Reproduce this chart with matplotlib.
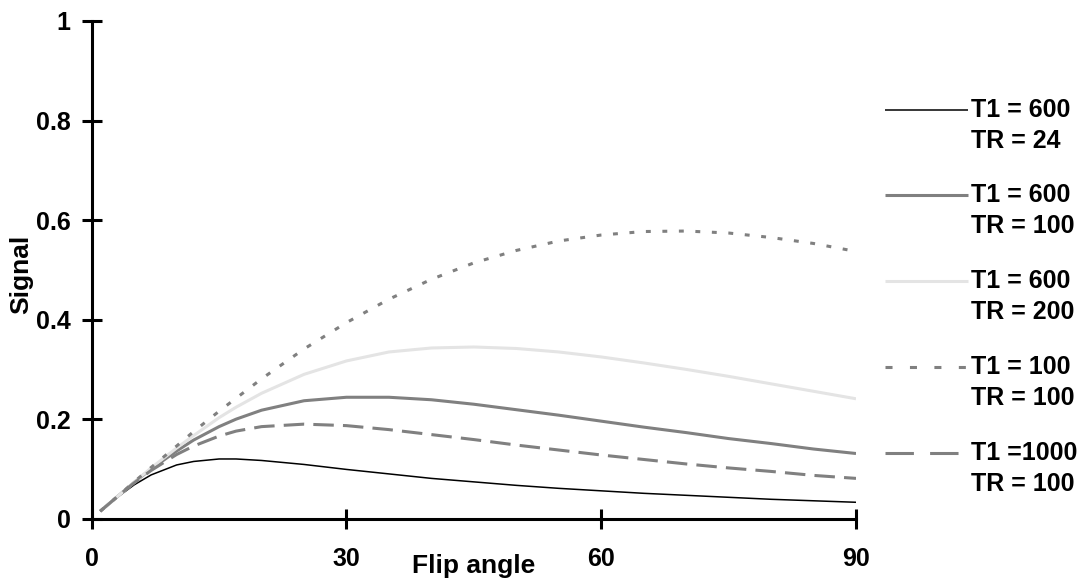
import matplotlib
matplotlib.use('Agg')
import matplotlib.pyplot as plt
from matplotlib.lines import Line2D

plt.rcParams['font.family'] = ['Liberation Sans', 'DejaVu Sans']
plt.rcParams['font.weight'] = 'bold'

# flip angle (degrees)
flip_angle = [1, 3, 5, 7, 10, 12, 15, 17, 20, 25, 30, 35, 40, 45, 50, 55, 60, 65, 70, 75, 80, 85, 90]

# signal
sig_t1_600_tr_24 = [0.015, 0.043, 0.068, 0.088, 0.108, 0.115, 0.120, 0.120, 0.117, 0.109, 0.099, 0.090,
                    0.081, 0.074, 0.067, 0.061, 0.056, 0.051, 0.047, 0.043, 0.039, 0.036, 0.033]
sig_t1_600_tr_100 = [0.015, 0.044, 0.073, 0.100, 0.136, 0.158, 0.185, 0.200, 0.218, 0.237, 0.244, 0.244,
                     0.239, 0.230, 0.219, 0.208, 0.196, 0.184, 0.173, 0.161, 0.151, 0.140, 0.131]
sig_t1_600_tr_200 = [0.015, 0.044, 0.073, 0.102, 0.142, 0.167, 0.203, 0.224, 0.252, 0.290, 0.317, 0.335,
                     0.343, 0.345, 0.342, 0.335, 0.325, 0.313, 0.300, 0.286, 0.271, 0.256, 0.241]
sig_t1_100_tr_100 = [0.015, 0.044, 0.074, 0.103, 0.146, 0.175, 0.216, 0.242, 0.281, 0.341, 0.394, 0.441,
                     0.481, 0.514, 0.539, 0.558, 0.570, 0.577, 0.578, 0.574, 0.565, 0.553, 0.537]
sig_t1_1000_tr_100 = [0.015, 0.044, 0.072, 0.097, 0.129, 0.146, 0.166, 0.176, 0.185, 0.190, 0.187, 0.179,
                      0.169, 0.159, 0.148, 0.138, 0.128, 0.119, 0.110, 0.102, 0.095, 0.087, 0.081]

labels = [("T1 = 600", "TR = 24"), ("T1 = 600", "TR = 100"), ("T1 = 600", "TR = 200"),
          ("T1 = 100", "TR = 100"), ("T1 =1000", "TR = 100")]

W, H = 1086, 581
fig = plt.figure(figsize=(W / 100, H / 100), dpi=100)
ax = fig.add_axes([91.7 / W, 1 - 518.7 / H, (856 - 91.7) / W, (518.7 - 21) / H])

gray = '#808080'
styles = [
    dict(color='black', lw=1.1),
    dict(color=gray, lw=2.2),
    dict(color='#e4e4e4', lw=2.2),
    dict(color=gray, lw=2.2, dashes=(1.6, 3.8)),
    dict(color=gray, lw=2.2, dashes=(6.7, 3.0)),
]
legend_dashes = [None, None, None, (2.3, 5.7), (9.3, 5.3)]

series = [sig_t1_600_tr_24, sig_t1_600_tr_100, sig_t1_600_tr_200, sig_t1_100_tr_100, sig_t1_1000_tr_100]
for s, st in zip(series, styles):
    ax.plot(flip_angle, s, solid_capstyle='butt', dash_capstyle='butt', **st)

ax.set_xlim(0, 90)
ax.set_ylim(0, 1)
ax.set_xticks([0, 30, 60, 90])
ax.set_yticks([0, 0.2, 0.4, 0.6, 0.8, 1])
ax.set_yticklabels(['0', '0.2', '0.4', '0.6', '0.8', '1'])
for side in ['top', 'right']:
    ax.spines[side].set_visible(False)
for side in ['left', 'bottom']:
    ax.spines[side].set_linewidth(2.2)
ax.tick_params(axis='both', direction='inout', length=13.7, width=2.2, labelsize=18)
ax.tick_params(axis='y', pad=8.2)
ax.tick_params(axis='x', pad=13.5)
ax.patch.set_alpha(0)

ax.set_xlabel('Flip angle', fontsize=19, fontweight='bold', va='center')
ax.xaxis.set_label_coords(0.4995, -0.095)
ax.set_ylabel('Signal', fontsize=19, fontweight='bold', va='center')
ax.yaxis.set_label_coords(-0.0925, 0.4917)

# legend drawn by hand to keep the handle on the first text line
row_y = [110, 195, 281, 367, 453]
for (l1, l2), st, ld, y in zip(labels, styles, legend_dashes, row_y):
    kw = dict(color=st['color'], lw=st['lw'], solid_capstyle='butt', dash_capstyle='butt')
    if ld is not None:
        kw['dashes'] = ld
    fig.add_artist(Line2D([885 / W, 968 / W], [1 - y / H, 1 - y / H],
                          transform=fig.transFigure, **kw))
    fig.text(971 / W, 1 - y / H, l1, fontsize=18, fontweight='bold', va='center', ha='left')
    fig.text(971 / W, 1 - (y + 31) / H, l2, fontsize=18, fontweight='bold', va='center', ha='left')

fig.savefig('out.png', dpi=100)
plt.close(fig)
